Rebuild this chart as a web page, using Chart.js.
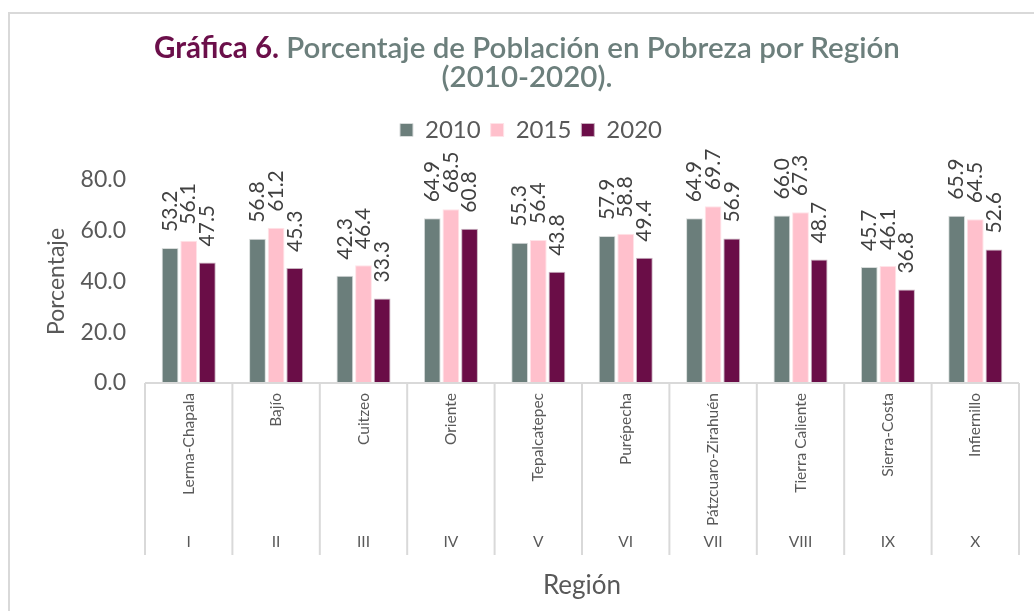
<!DOCTYPE html>
<html lang="es">
<head>
<meta charset="UTF-8">
<title>Gráfica 6. Porcentaje de Población en Pobreza por Región</title>
<script src="https://cdn.jsdelivr.net/npm/chart.js"></script>
<style>
  html, body { margin: 0; padding: 0; background: #ffffff; overflow: hidden; }
  #marco { position: absolute; left: 8px; top: 12px; width: 1040px; height: 620px; border: 2px solid #d9d9d9; box-sizing: border-box; }
  #titulo { position: absolute; left: 0; top: 32px; width: 1054px; text-align: center; font-family: Lato, sans-serif; font-size: 29.5px; line-height: 29px; color: #6c7f7c; font-weight: 600; }
  #titulo b { color: #6b0f4a; font-weight: 700; }
  #contenedor { position: absolute; left: 0; top: 0; width: 1034px; height: 611px; }
</style>
</head>
<body>
<div id="marco"></div>
<div id="contenedor"><canvas id="grafica"></canvas></div>
<div id="titulo"><b>Gráfica 6.</b> Porcentaje de Población en Pobreza por Región<br>(2010-2020).</div>

<script>
// datos
var regiones = ['Lerma-Chapala', 'Bajío', 'Cuitzeo', 'Oriente', 'Tepalcatepec', 'Purépecha', 'Pátzcuaro-Zirahuén', 'Tierra Caliente', 'Sierra-Costa', 'Infiernillo'];
var numeros = ['I', 'II', 'III', 'IV', 'V', 'VI', 'VII', 'VIII', 'IX', 'X'];
var pob2010 = [53.2, 56.8, 42.3, 64.9, 55.3, 57.9, 64.9, 66.0, 45.7, 65.9];
var pob2015 = [56.1, 61.2, 46.4, 68.5, 56.4, 58.8, 69.7, 67.3, 46.1, 64.5];
var pob2020 = [47.5, 45.3, 33.3, 60.8, 43.8, 49.4, 56.9, 48.7, 36.8, 52.6];
var ticksY = [0, 20, 40, 60, 80];

var gris = '#595959';
var fuente = 'Lato';

// espacio extra debajo de la leyenda
var margenLeyenda = {
    id: 'margenLeyenda',
    beforeInit: function (chart) {
        var fitOriginal = chart.legend.fit;
        chart.legend.fit = function () {
            fitOriginal.bind(chart.legend)();
            this.height += 28;
        };
    }
};

// etiquetas de valor giradas sobre cada barra
var etiquetas = {
    id: 'etiquetas',
    afterDatasetsDraw: function (chart) {
        var ctx = chart.ctx;
        ctx.save();
        ctx.font = '21px ' + fuente;
        ctx.fillStyle = '#404040';
        ctx.textAlign = 'left';
        ctx.textBaseline = 'middle';
        chart.data.datasets.forEach(function (ds, i) {
            chart.getDatasetMeta(i).data.forEach(function (barra, j) {
                ctx.save();
                ctx.translate(barra.x, barra.y - 16);
                ctx.rotate(-Math.PI / 2);
                ctx.fillText(ds.data[j].toFixed(1), 0, 0);
                ctx.restore();
            });
        });
        ctx.restore();
    }
};

// lineas separadoras entre regiones
var separadores = {
    id: 'separadores',
    afterDraw: function (chart) {
        var ctx = chart.ctx;
        var x = chart.scales.x;
        var x2 = chart.scales.x2;
        var ancho = x.getPixelForValue(1) - x.getPixelForValue(0);
        var abajo = x2.top + 30;
        ctx.save();
        ctx.strokeStyle = '#d9d9d9';
        ctx.lineWidth = 2;
        for (var i = 0; i <= regiones.length; i++) {
            var px = (i < regiones.length) ? x.getPixelForValue(i) - ancho / 2 : x.right;
            if (i === 0) px = x.left;
            ctx.beginPath();
            ctx.moveTo(px, x.top);
            ctx.lineTo(px, abajo);
            ctx.stroke();
        }
        ctx.beginPath();
        ctx.moveTo(x.left, x.top);
        ctx.lineTo(x.right, x.top);
        ctx.stroke();
        ctx.restore();
    }
};

var config = {
    type: 'bar',
    data: {
        labels: regiones,
        datasets: [
            { label: '2010', data: pob2010, backgroundColor: '#6b7e7b', borderColor: '#d8dcdb', borderWidth: 1 },
            { label: '2015', data: pob2015, backgroundColor: '#ffc0cc', borderColor: '#ffe3e8', borderWidth: 1 },
            { label: '2020', data: pob2020, backgroundColor: '#6a0d47', borderColor: '#c9b3c0', borderWidth: 1 }
        ]
    },
    options: {
        responsive: true,
        maintainAspectRatio: false,
        animation: false,
        categoryPercentage: 0.64,
        barPercentage: 0.9,
        layout: { padding: { top: 108, left: 43, right: 15, bottom: 8 } },
        plugins: {
            legend: {
                position: 'top',
                labels: {
                    boxWidth: 13,
                    boxHeight: 13,
                    padding: 10,
                    color: gris,
                    font: { family: fuente, size: 24 }
                }
            },
            tooltip: { enabled: false }
        },
        scales: {
            y: {
                min: 0,
                max: 80,
                afterBuildTicks: function (scale) {
                    scale.ticks = ticksY.map(function (v) { return { value: v }; });
                },
                afterFit: function (scale) { scale.width = 102; },
                grid: { display: false, drawTicks: false },
                border: { display: false },
                ticks: {
                    padding: 19,
                    color: gris,
                    font: { family: fuente, size: 23 },
                    callback: function (v) { return Number(v).toFixed(1); }
                },
                title: {
                    display: true,
                    text: 'Porcentaje',
                    color: gris,
                    font: { family: fuente, size: 23 },
                    padding: { top: 0, bottom: 4 }
                }
            },
            x: {
                afterFit: function (scale) { scale.height = 142; },
                grid: { display: false, drawTicks: false },
                border: { display: false },
                ticks: {
                    padding: 10,
                    minRotation: 90,
                    maxRotation: 90,
                    autoSkip: false,
                    color: gris,
                    font: { family: fuente, size: 15.5 }
                }
            },
            x2: {
                type: 'category',
                position: 'bottom',
                labels: numeros,
                offset: true,
                afterFit: function (scale) { scale.height = 78; },
                grid: { display: false, drawTicks: false },
                border: { display: false },
                ticks: {
                    padding: 8,
                    autoSkip: false,
                    maxRotation: 0,
                    color: gris,
                    font: { family: fuente, size: 15.5 }
                },
                title: {
                    display: true,
                    text: 'Región',
                    color: gris,
                    font: { family: fuente, size: 26 },
                    padding: { top: 0, bottom: 2 }
                }
            }
        }
    },
    plugins: [margenLeyenda, etiquetas, separadores]
};

var grafica = new Chart(document.getElementById('grafica').getContext('2d'), config);
</script>
</body>
</html>
